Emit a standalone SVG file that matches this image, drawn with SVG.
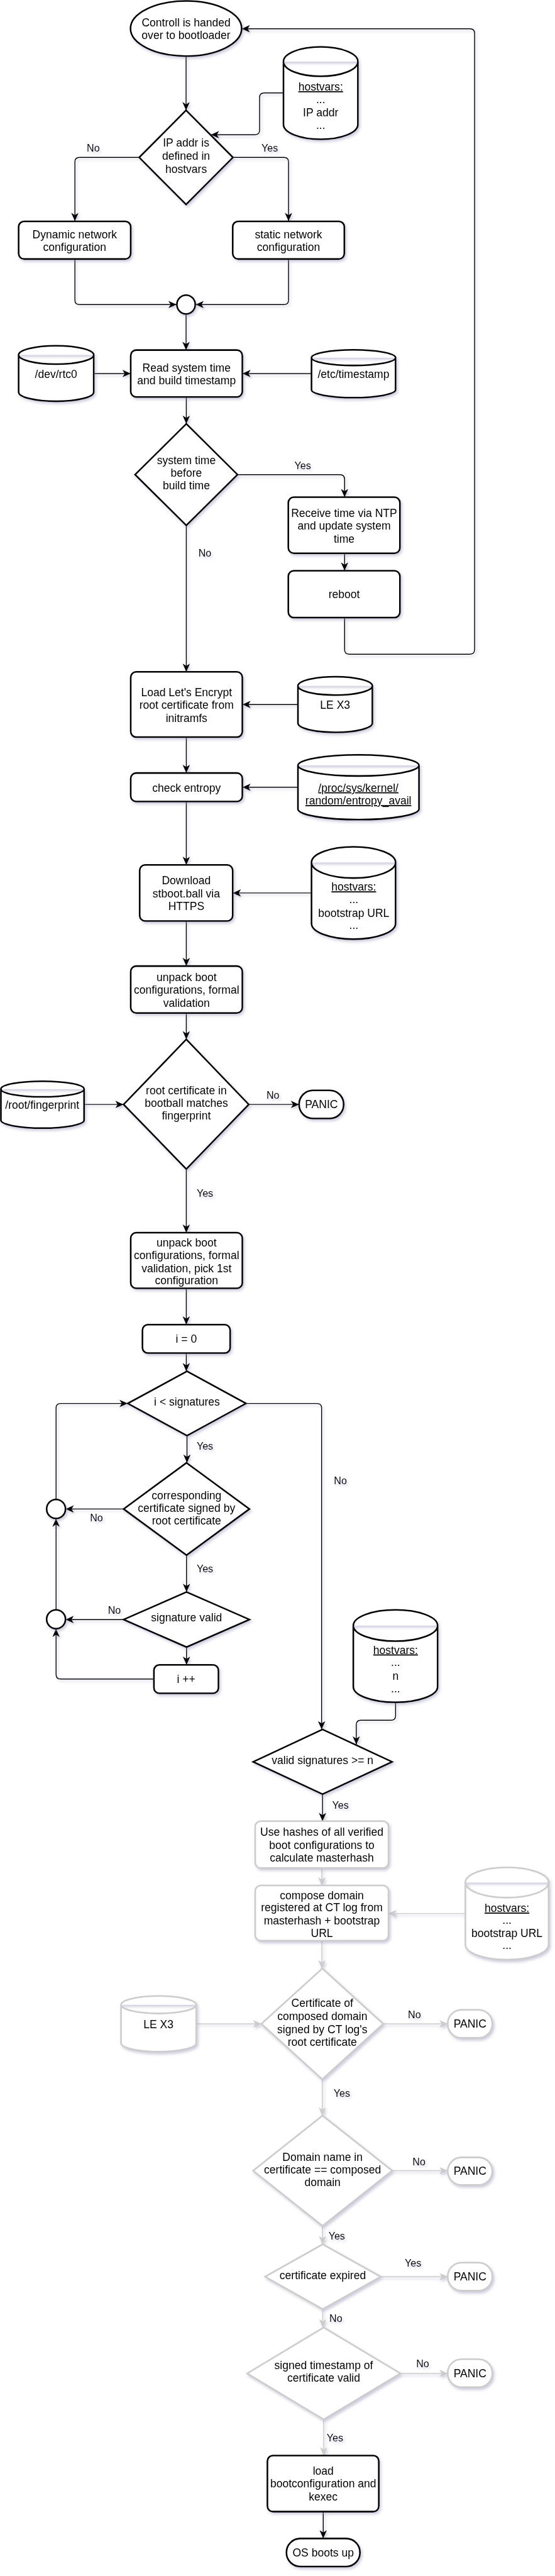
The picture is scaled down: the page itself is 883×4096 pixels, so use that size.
<svg xmlns="http://www.w3.org/2000/svg" width="883" height="4096" viewBox="0 0 883 4096">
<defs>
<style>
.n{fill:#fff;stroke:#000;stroke-width:3.5}
.g{fill:#fff;stroke:#cccccc;stroke-width:3.5}
.e{fill:none;stroke:#000;stroke-width:2}
.eg{fill:none;stroke:#cccccc;stroke-width:2}
text{font-family:"Liberation Sans",Arial,sans-serif;font-size:24px;text-anchor:middle;fill:#000}
.lb{font-size:22px}
.u{text-decoration:underline}
</style>
<filter id="sh" x="-20%" y="-20%" width="140%" height="140%">
<feDropShadow dx="3" dy="4" stdDeviation="3" flood-color="#8c8cb4" flood-opacity="0.45"/>
</filter>
<marker id="a" markerUnits="userSpaceOnUse" viewBox="-20 -10 22 20" refX="0" refY="0" markerWidth="22" markerHeight="20" orient="auto"><path d="M0,0 L-18,-8 L-13,0 L-18,8 Z" fill="#000"/></marker>
<marker id="ag" markerUnits="userSpaceOnUse" viewBox="-20 -10 22 20" refX="0" refY="0" markerWidth="22" markerHeight="20" orient="auto"><path d="M0,0 L-18,-8 L-13,0 L-18,8 Z" fill="#cccccc"/></marker>
</defs>
<rect width="883" height="4096" fill="#fff"/>
<g transform="scale(0.73096)">
<g id="connectors" filter="url(#sh)">
<path class="e" marker-end="url(#a)" d="M405,122 V240"/>
<path class="e" marker-end="url(#a)" d="M617,202 H575 Q565,202 565,212 V283 Q565,293 555,293 H459"/>
<path class="e" marker-end="url(#a)" d="M303,342.5 H173 Q163,342.5 163,352.5 V481"/>
<text class="lb" x="203" y="330">No</text>
<path class="e" marker-end="url(#a)" d="M507,342.5 H618 Q628,342.5 628,352.5 V481"/>
<text class="lb" x="587" y="330">Yes</text>
<path class="e" marker-end="url(#a)" d="M163,563.5 V652.5 Q163,662.5 173,662.5 H384.5"/>
<path class="e" marker-end="url(#a)" d="M628,563.5 V652.5 Q628,662.5 618,662.5 H425.5"/>
<path class="e" marker-end="url(#a)" d="M405,683 V761.5"/>
<path class="e" marker-end="url(#a)" d="M204,812.5 H284.5"/>
<path class="e" marker-end="url(#a)" d="M678,812.5 H527.5"/>
<path class="e" marker-end="url(#a)" d="M405.5,863.5 V922"/>
<path class="e" marker-end="url(#a)" d="M517,1032.5 H740 Q750,1032.5 750,1042.5 V1081.5"/>
<text class="lb" x="659" y="1020">Yes</text>
<path class="e" marker-end="url(#a)" d="M750,1203.5 V1241.5"/>
<path class="e" marker-end="url(#a)" d="M750,1343.5 V1413 Q750,1423 760,1423 H1023 Q1033,1423 1033,1413 V72.5 Q1033,62.5 1023,62.5 H526"/>
<path class="e" marker-end="url(#a)" d="M405.5,1143 V1461.5"/>
<text class="lb" x="446" y="1211">No</text>
<path class="e" marker-end="url(#a)" d="M648.5,1532.5 H527.5"/>
<path class="e" marker-end="url(#a)" d="M405.5,1603.5 V1681.5"/>
<path class="e" marker-end="url(#a)" d="M648.5,1712.5 H527.5"/>
<path class="e" marker-end="url(#a)" d="M405.5,1743.5 V1881.5"/>
<path class="e" marker-end="url(#a)" d="M678,1942.5 H506.5"/>
<path class="e" marker-end="url(#a)" d="M405.5,2003.5 V2101.5"/>
<path class="e" marker-end="url(#a)" d="M405.5,2203.5 V2261"/>
<path class="e" marker-end="url(#a)" d="M183,2402.5 H269"/>
<path class="e" marker-end="url(#a)" d="M541.5,2402.5 H651"/>
<text class="lb" x="594" y="2390">No</text>
<path class="e" marker-end="url(#a)" d="M405.5,2543 V2681.5"/>
<text class="lb" x="446" y="2604">Yes</text>
<path class="e" marker-end="url(#a)" d="M405.5,2802.5 V2881.5"/>
<path class="e" marker-end="url(#a)" d="M405.5,2943.5 V2983"/>
<path class="e" marker-end="url(#a)" d="M535.5,3053 H690 Q700,3053 700,3063 V3762"/>
<text class="lb" x="741" y="3228">No</text>
<path class="e" marker-end="url(#a)" d="M407,3123 V3182"/>
<text class="lb" x="446" y="3154">Yes</text>
<path class="e" marker-end="url(#a)" d="M122,3262 V3063 Q122,3053 132,3053 H278"/>
<path class="e" marker-end="url(#a)" d="M269,3282.5 H142.7"/>
<text class="lb" x="210" y="3310">No</text>
<path class="e" marker-end="url(#a)" d="M406,3383 V3463"/>
<text class="lb" x="446" y="3420">Yes</text>
<path class="e" marker-end="url(#a)" d="M269,3523 H142.5"/>
<text class="lb" x="249" y="3510">No</text>
<path class="e" marker-end="url(#a)" d="M122,3502 V3303.2"/>
<path class="e" marker-end="url(#a)" d="M406,3583 V3621.5"/>
<path class="e" marker-end="url(#a)" d="M335,3652.5 H132 Q122,3652.5 122,3642.5 V3543"/>
<path class="e" marker-end="url(#a)" d="M861,3703 V3732 Q861,3742 851,3742 H785.5 Q775.5,3742 775.5,3752 V3795"/>
<path class="e" marker-end="url(#a)" d="M702,3903 V3961.5"/>
<text class="lb" x="741" y="3934">Yes</text>
<path class="eg" marker-end="url(#ag)" d="M700.5,4063.5 V4101.5"/>
<path class="eg" marker-end="url(#ag)" d="M1013,4162.5 H845.5"/>
<path class="eg" marker-end="url(#ag)" d="M700.5,4221.5 V4282"/>
<path class="eg" marker-end="url(#ag)" d="M427,4402.5 H569"/>
<path class="eg" marker-end="url(#ag)" d="M834,4402.5 H974.5"/>
<text class="lb" x="902" y="4390">No</text>
<path class="eg" marker-end="url(#ag)" d="M701.5,4523 V4602"/>
<text class="lb" x="744" y="4561">Yes</text>
<path class="eg" marker-end="url(#ag)" d="M853.5,4722 H974.5"/>
<text class="lb" x="912" y="4710">No</text>
<path class="eg" marker-end="url(#ag)" d="M702,4842 V4882"/>
<text class="lb" x="733" y="4871">Yes</text>
<path class="eg" marker-end="url(#ag)" d="M828.5,4952.5 H974.5"/>
<text class="lb" x="899" y="4930">Yes</text>
<path class="eg" marker-end="url(#ag)" d="M702.5,5023 V5063"/>
<text class="lb" x="731" y="5051">No</text>
<path class="eg" marker-end="url(#ag)" d="M871.5,5163 H974.5"/>
<text class="lb" x="920" y="5150">No</text>
<path class="eg" marker-end="url(#ag)" d="M704.5,5263 V5341.5"/>
<text class="lb" x="729" y="5311">Yes</text>
<path class="e" marker-end="url(#a)" d="M703.5,5463.5 V5522"/>
</g>
<g id="start" filter="url(#sh)"><ellipse class="n" cx="405" cy="62" rx="121" ry="60"/><text><tspan x="405" y="57">Controll is handed</tspan><tspan x="405" y="85">over to bootloader</tspan></text></g>
<g id="ipdefined" filter="url(#sh)"><polygon class="n" points="405,240 507,342.5 405,445 303,342.5"/><text><tspan x="405" y="319">IP addr is</tspan><tspan x="405" y="347.5">defined in</tspan><tspan x="405" y="376">hostvars</tspan></text></g>
<g id="hostvars1" filter="url(#sh)"><path class="n" d="M617,134 A81,32 0 0 1 779,134 V271 A81,32 0 0 1 617,271 Z M617,134 A81,32 0 0 0 779,134"/><text><tspan class="u" x="698" y="197">hostvars:</tspan><tspan x="698" y="225">...</tspan><tspan x="698" y="253">IP addr</tspan><tspan x="698" y="281">...</tspan></text></g>
<g id="dynamic" filter="url(#sh)"><rect class="n" x="40.5" y="481.5" width="244" height="82" rx="12"/><text><tspan x="162.5" y="518">Dynamic network</tspan><tspan x="162.5" y="546.5">configuration</tspan></text></g>
<g id="static" filter="url(#sh)"><rect class="n" x="506.5" y="481.5" width="243" height="82" rx="12"/><text><tspan x="628" y="518">static network</tspan><tspan x="628" y="546.5">configuration</tspan></text></g>
<g id="merge1" filter="url(#sh)"><ellipse class="n" cx="405" cy="662.5" rx="20" ry="20.5"/></g>
<g id="rtc0" filter="url(#sh)"><path class="n" d="M40.5,772 A81.75,20 0 0 1 204,772 V853 A81.75,20 0 0 1 40.5,853 Z M40.5,772 A81.75,20 0 0 0 204,772"/><text x="122" y="822">/dev/rtc0</text></g>
<g id="readtime" filter="url(#sh)"><rect class="n" x="284.5" y="761.5" width="243" height="102" rx="12"/><text><tspan x="406" y="808">Read system time</tspan><tspan x="406" y="836">and build timestamp</tspan></text></g>
<g id="etctimestamp" filter="url(#sh)"><path class="n" d="M678,778 A91.5,17 0 0 1 861,778 V848 A91.5,17 0 0 1 678,848 Z M678,778 A91.5,17 0 0 0 861,778"/><text x="769.5" y="822">/etc/timestamp</text></g>
<g id="timecheck" filter="url(#sh)"><polygon class="n" points="405.5,922 517,1032.5 405.5,1143 294,1032.5"/><text><tspan x="405.5" y="1009">system time</tspan><tspan x="405.5" y="1037.5">before</tspan><tspan x="405.5" y="1065">build time</tspan></text></g>
<g id="ntp" filter="url(#sh)"><rect class="n" x="627.5" y="1081.5" width="243" height="122" rx="12"/><text><tspan x="749" y="1124">Receive time via NTP</tspan><tspan x="749" y="1152">and update system</tspan><tspan x="749" y="1180">time</tspan></text></g>
<g id="reboot" filter="url(#sh)"><rect class="n" x="627.5" y="1241.5" width="243" height="102" rx="12"/><text x="749" y="1301.5">reboot</text></g>
<g id="loadle" filter="url(#sh)"><rect class="n" x="284.5" y="1461.5" width="243" height="142" rx="12"/><text><tspan x="406" y="1514">Load Let's Encrypt</tspan><tspan x="406" y="1542">root certificate from</tspan><tspan x="406" y="1570">initramfs</tspan></text></g>
<g id="lex3a" filter="url(#sh)"><path class="n" d="M648.5,1492 A81,20 0 0 1 810.5,1492 V1573 A81,20 0 0 1 648.5,1573 Z M648.5,1492 A81,20 0 0 0 810.5,1492"/><text x="729.5" y="1542">LE X3</text></g>
<g id="entropy" filter="url(#sh)"><rect class="n" x="284.5" y="1681.5" width="243" height="62" rx="12"/><text x="406" y="1722">check entropy</text></g>
<g id="procsys" filter="url(#sh)"><path class="n" d="M648.5,1665 A131.75,23 0 0 1 912,1665 V1760 A131.75,23 0 0 1 648.5,1760 Z M648.5,1665 A131.75,23 0 0 0 912,1665"/><text><tspan class="u" x="780" y="1722">/proc/sys/kernel/</tspan><tspan class="u" x="780" y="1750">random/entropy_avail</tspan></text></g>
<g id="download" filter="url(#sh)"><rect class="n" x="304" y="1881.5" width="202.5" height="122" rx="12"/><text><tspan x="405.5" y="1923.5">Download</tspan><tspan x="405.5" y="1952">stboot.ball via</tspan><tspan x="405.5" y="1979">HTTPS</tspan></text></g>
<g id="hostvars2" filter="url(#sh)"><path class="n" d="M678,1876 A91.5,34 0 0 1 861,1876 V2009 A91.5,34 0 0 1 678,2009 Z M678,1876 A91.5,34 0 0 0 861,1876"/><text><tspan class="u" x="770" y="1937.5">hostvars:</tspan><tspan x="770" y="1965">...</tspan><tspan x="770" y="1994">bootstrap URL</tspan><tspan x="770" y="2021">...</tspan></text></g>
<g id="unpack1" filter="url(#sh)"><rect class="n" x="284.5" y="2101.5" width="243" height="102" rx="12"/><text><tspan x="406" y="2134">unpack boot</tspan><tspan x="406" y="2162">configurations, formal</tspan><tspan x="406" y="2190">validation</tspan></text></g>
<g id="fpcheck" filter="url(#sh)"><polygon class="n" points="405.5,2261 541.5,2402.5 405.5,2543 269,2402.5"/><text><tspan x="405.5" y="2380">root certificate in</tspan><tspan x="405.5" y="2407.5">bootball matches</tspan><tspan x="405.5" y="2435">fingerprint</tspan></text></g>
<g id="fingerprint" filter="url(#sh)"><path class="n" d="M2,2369 A90.5,17 0 0 1 183,2369 V2437 A90.5,17 0 0 1 2,2437 Z M2,2369 A90.5,17 0 0 0 183,2369"/><text x="92" y="2411.5">/root/fingerprint</text></g>
<g id="panic1" filter="url(#sh)"><rect class="n" x="651" y="2372" width="97" height="61" rx="30"/><text x="699.5" y="2411">PANIC</text></g>
<g id="unpack2" filter="url(#sh)"><rect class="n" x="284.5" y="2681.5" width="243" height="121" rx="12"/><text><tspan x="406" y="2711">unpack boot</tspan><tspan x="406" y="2739">configurations, formal</tspan><tspan x="406" y="2767">validation, pick 1st</tspan><tspan x="406" y="2794">configuration</tspan></text></g>
<g id="izero" filter="url(#sh)"><rect class="n" x="310" y="2881.5" width="191" height="62" rx="12"/><text x="405.5" y="2921.5">i = 0</text></g>
<g id="iltsig" filter="url(#sh)"><polygon class="n" points="407,2983 535.5,3053 407,3123 278,3053"/><text x="407" y="3058">i &lt; signatures</text></g>
<g id="corresp" filter="url(#sh)"><polygon class="n" points="406,3182 543,3282.5 406,3383 269,3282.5"/><text><tspan x="406" y="3261">corresponding</tspan><tspan x="406" y="3288.5">certificate signed by</tspan><tspan x="406" y="3316.5">root certificate</tspan></text></g>
<g id="merge2" filter="url(#sh)"><ellipse class="n" cx="122" cy="3282.5" rx="20.5" ry="20.7"/></g>
<g id="sigvalid" filter="url(#sh)"><polygon class="n" points="406,3463 543,3523 406,3583 269,3523"/><text x="406" y="3527.5">signature valid</text></g>
<g id="merge3" filter="url(#sh)"><ellipse class="n" cx="122" cy="3522.5" rx="20.5" ry="20.5"/></g>
<g id="iinc" filter="url(#sh)"><rect class="n" x="335" y="3621.5" width="140.5" height="62" rx="12"/><text x="405" y="3661.5">i ++</text></g>
<g id="hostvars3" filter="url(#sh)"><path class="n" d="M769,3536 A91.75,34 0 0 1 952.5,3536 V3669 A91.75,34 0 0 1 769,3669 Z M769,3536 A91.75,34 0 0 0 952.5,3536"/><text><tspan class="u" x="861" y="3597.5">hostvars:</tspan><tspan x="861" y="3624.5">...</tspan><tspan x="861" y="3654">n</tspan><tspan x="861" y="3681">...</tspan></text></g>
<g id="validgen" filter="url(#sh)"><polygon class="n" points="702,3762 853.5,3832.5 702,3903 551,3832.5"/><text x="702" y="3838">valid signatures &gt;= n</text></g>
<g id="masterhash" filter="url(#sh)"><rect class="g" x="555.5" y="3961.5" width="290" height="102" rx="12"/><text><tspan x="700.5" y="3993.5">Use hashes of all verified</tspan><tspan x="700.5" y="4022">boot configurations to</tspan><tspan x="700.5" y="4050">calculate masterhash</tspan></text></g>
<g id="compose" filter="url(#sh)"><rect class="g" x="555.5" y="4101.5" width="290" height="120" rx="12"/><text><tspan x="700.5" y="4131">compose domain</tspan><tspan x="700.5" y="4157.5">registered at CT log from</tspan><tspan x="700.5" y="4186">masterhash + bootstrap</tspan><tspan x="700.5" y="4213">URL</tspan></text></g>
<g id="hostvars4" filter="url(#sh)"><path class="g" d="M1013,4095 A90.5,33 0 0 1 1194,4095 V4230 A90.5,33 0 0 1 1013,4230 Z M1013,4095 A90.5,33 0 0 0 1194,4095"/><text><tspan class="u" x="1103.5" y="4159">hostvars:</tspan><tspan x="1103.5" y="4185">...</tspan><tspan x="1103.5" y="4213.5">bootstrap URL</tspan><tspan x="1103.5" y="4240">...</tspan></text></g>
<g id="ctsigned" filter="url(#sh)"><polygon class="g" points="701.5,4282 834,4402.5 701.5,4523 569,4402.5"/><text><tspan x="701.5" y="4366">Certificate of</tspan><tspan x="701.5" y="4394">composed domain</tspan><tspan x="701.5" y="4422.5">signed by CT log's</tspan><tspan x="701.5" y="4450">root certificate</tspan></text></g>
<g id="lex3b" filter="url(#sh)"><path class="g" d="M263.5,4361 A81.75,19 0 0 1 427,4361 V4444 A81.75,19 0 0 1 263.5,4444 Z M263.5,4361 A81.75,19 0 0 0 427,4361"/><text x="345" y="4412">LE X3</text></g>
<g id="panic2" filter="url(#sh)"><rect class="g" x="974.5" y="4372" width="97" height="61" rx="30"/><text x="1023" y="4411">PANIC</text></g>
<g id="domainname" filter="url(#sh)"><polygon class="g" points="702,4602 853.5,4722 702,4842 551,4722"/><text><tspan x="702" y="4700">Domain name in</tspan><tspan x="702" y="4727.5">certificate == composed</tspan><tspan x="702" y="4755">domain</tspan></text></g>
<g id="panic3" filter="url(#sh)"><rect class="g" x="974.5" y="4693" width="97" height="60" rx="30"/><text x="1023" y="4731">PANIC</text></g>
<g id="expired" filter="url(#sh)"><polygon class="g" points="702.5,4882 828.5,4952.5 702.5,5023 577,4952.5"/><text x="702.5" y="4957.5">certificate expired</text></g>
<g id="panic4" filter="url(#sh)"><rect class="g" x="974.5" y="4922" width="97" height="61" rx="30"/><text x="1023" y="4961">PANIC</text></g>
<g id="sigtimestamp" filter="url(#sh)"><polygon class="g" points="704.5,5063 871.5,5163 704.5,5263 538,5163"/><text><tspan x="704.5" y="5154">signed timestamp of</tspan><tspan x="704.5" y="5181.5">certificate valid</tspan></text></g>
<g id="panic5" filter="url(#sh)"><rect class="g" x="974.5" y="5132" width="97" height="61" rx="30"/><text x="1023" y="5171">PANIC</text></g>
<g id="kexec" filter="url(#sh)"><rect class="n" x="582" y="5341.5" width="242.5" height="122" rx="12"/><text><tspan x="703.5" y="5383.5">load</tspan><tspan x="703.5" y="5411">bootconfiguration and</tspan><tspan x="703.5" y="5439">kexec</tspan></text></g>
<g id="osboots" filter="url(#sh)"><rect class="n" x="623.5" y="5522" width="160" height="61" rx="30"/><text x="703.5" y="5561">OS boots up</text></g>
</g>
</svg>
